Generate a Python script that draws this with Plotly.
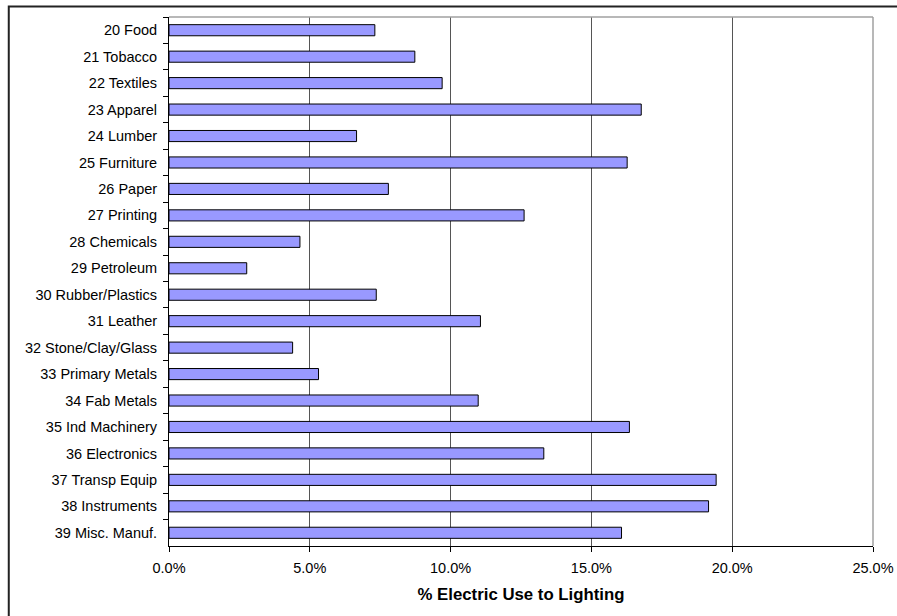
import plotly.graph_objects as go

# Share of industrial electricity use going to lighting, by SIC manufacturing group
industries = [
    "20 Food", "21 Tobacco", "22 Textiles", "23 Apparel", "24 Lumber",
    "25 Furniture", "26 Paper", "27 Printing", "28 Chemicals", "29 Petroleum",
    "30 Rubber/Plastics", "31 Leather", "32 Stone/Clay/Glass", "33 Primary Metals",
    "34 Fab Metals", "35 Ind Machinery", "36 Electronics", "37 Transp Equip",
    "38 Instruments", "39 Misc. Manuf.",
]
lighting_pct = [
    7.31, 8.73, 9.70, 16.77, 6.66,
    16.27, 7.79, 12.61, 4.65, 2.76,
    7.36, 11.06, 4.39, 5.31,
    10.98, 16.35, 13.31, 19.43,
    19.16, 16.07,
]
x_ticks = [0, 5, 10, 15, 20, 25]
x_tick_labels = ["0.0%", "5.0%", "10.0%", "15.0%", "20.0%", "25.0%"]

FONT = "Liberation Sans, Arial, sans-serif"

fig = go.Figure(
    go.Bar(
        x=lighting_pct,
        y=industries,
        orientation="h",
        width=0.42,
        marker=dict(color="#9999FF", line=dict(color="#000000", width=1)),
        hoverinfo="x+y",
    )
)

fig.update_layout(
    width=897,
    height=616,
    margin=dict(l=169, r=24, t=17, b=70),
    paper_bgcolor="white",
    plot_bgcolor="white",
    showlegend=False,
    font=dict(family=FONT, size=14.5, color="#000000"),
    xaxis=dict(
        range=[0, 25],
        automargin=False,
        tickvals=x_ticks,
        ticktext=x_tick_labels,
        ticks="outside",
        ticklen=5,
        tickcolor="#000000",
        ticklabelstandoff=4,
        showline=True,
        linecolor="#000000",
        linewidth=1,
        showgrid=True,
        gridcolor="#555555",
        gridwidth=1,
        zeroline=False,
        title=dict(
            text="<b>% Electric Use to Lighting</b>",
            font=dict(family=FONT, size=16.8, color="#000000"),
            standoff=12,
        ),
    ),
    yaxis=dict(
        type="category",
        autorange="reversed",
        automargin=False,
        ticks="outside",
        tickson="boundaries",
        ticklen=5,
        tickcolor="#000000",
        tickwidth=1,
        ticklabelstandoff=8,
        showline=True,
        linecolor="#000000",
        linewidth=1,
        showgrid=False,
        zeroline=False,
    ),
    shapes=[
        # plot-area frame on top and right
        dict(type="line", xref="x domain", yref="y domain", x0=0, x1=1, y0=1, y1=1,
             line=dict(color="#A0A0A0", width=1.5), layer="above"),
        dict(type="line", xref="x domain", yref="y domain", x0=1, x1=1, y0=0, y1=1,
             line=dict(color="#A0A0A0", width=1.5), layer="above"),
        # chart-area border
        dict(type="rect", xref="paper", yref="paper",
             x0=-0.2276, x1=1.1, y0=-0.3, y1=1.0198,
             line=dict(color="#222222", width=2), layer="above"),
    ],
)

fig.write_html("out.html")
